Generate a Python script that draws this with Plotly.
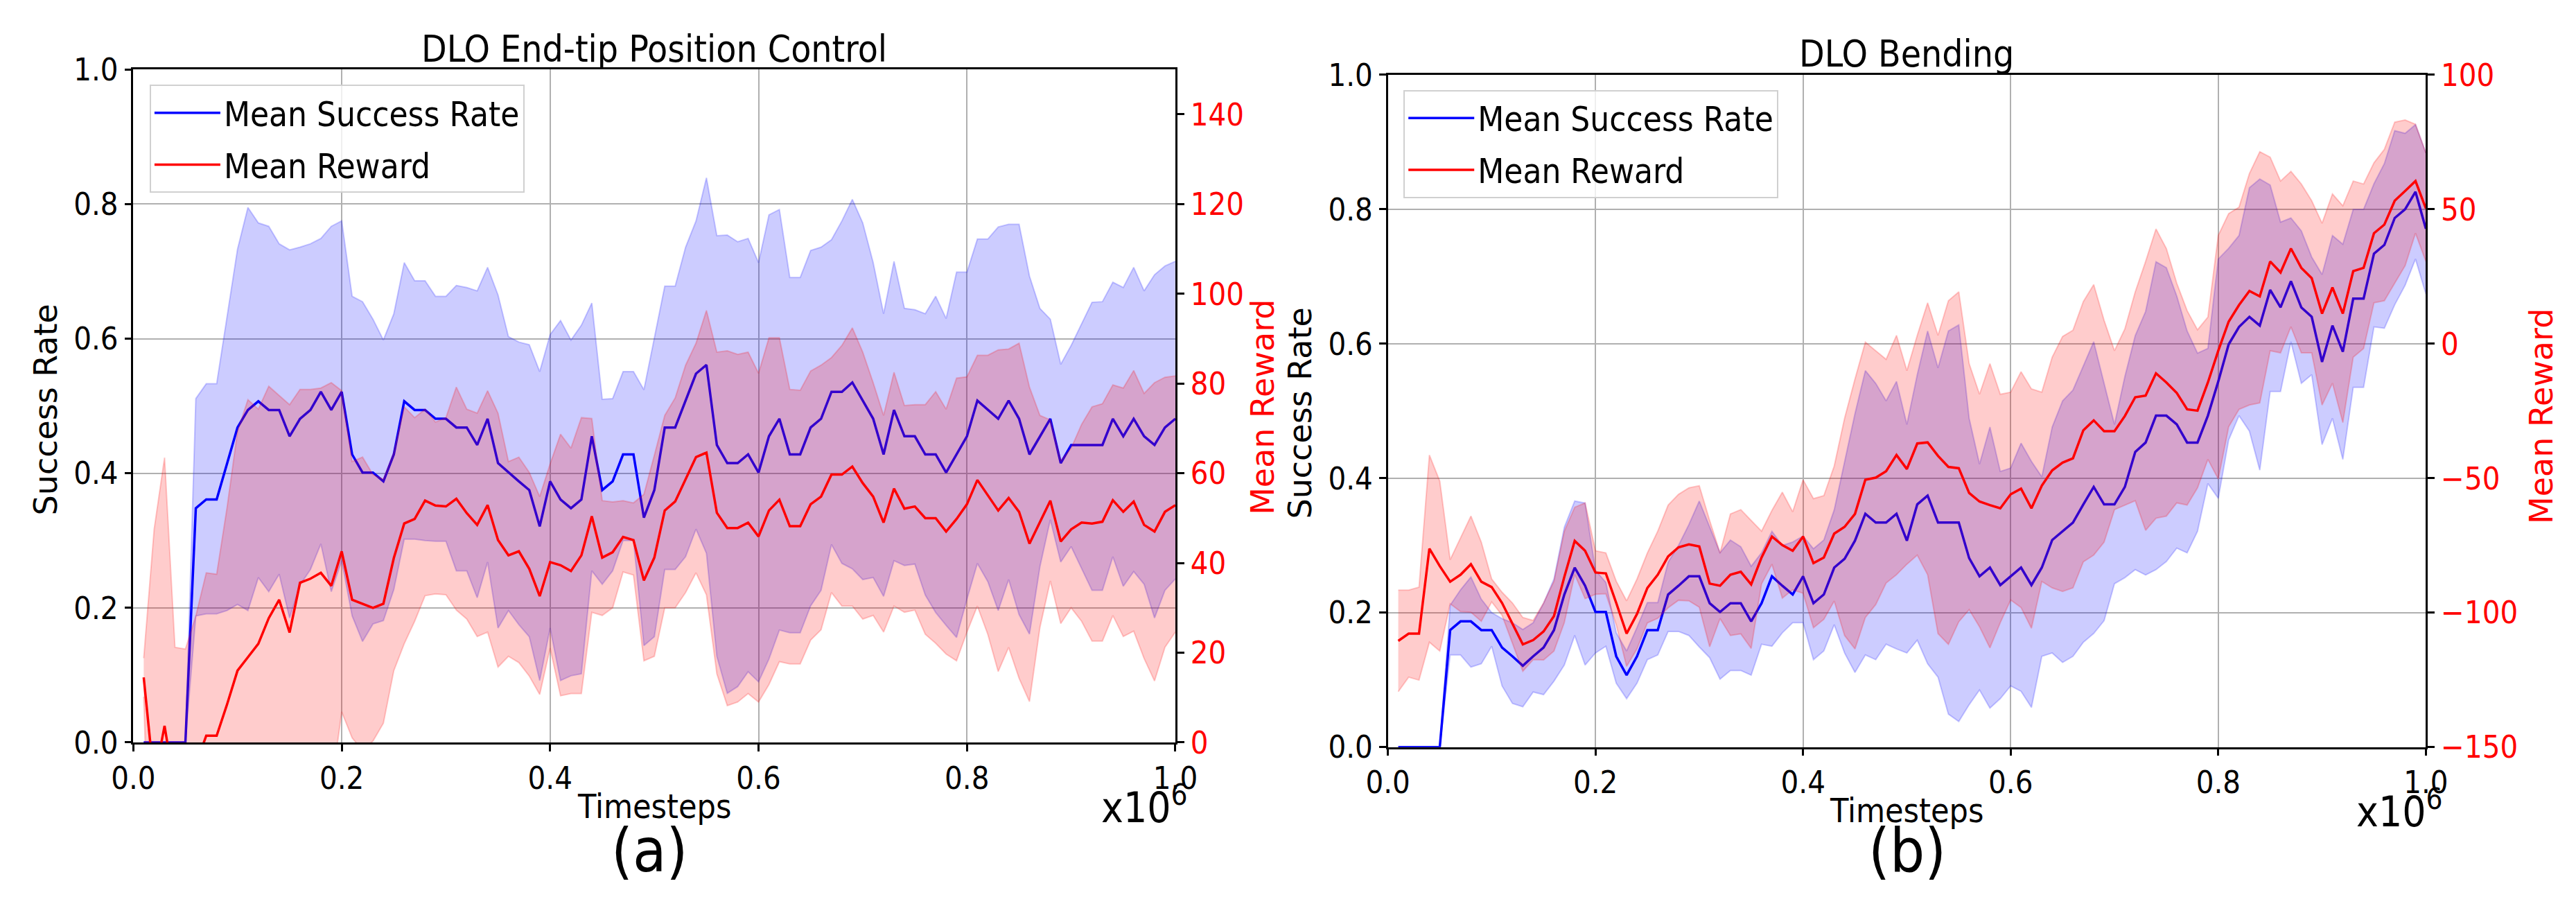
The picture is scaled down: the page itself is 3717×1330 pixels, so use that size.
import plotly.graph_objects as go

W, H = 3717, 1330
FONT = "DejaVu Sans Condensed, DejaVu Sans"
ROT_FONT = "DejaVu Sans"
FS = 45

# ---- data (timesteps in units of 1e6) ----
timesteps = [i / 100 for i in range(1, 101)]

# (a) DLO End-tip Position Control
a_success_mean = [
    0, 0, 0, 0, 0, .348, .361, .361, .414, .468, .494, .507, .494, .494, .455, .481, .494, .521, .494, .521,
    .428, .401, .401, .388, .428, .507, .494, .494, .481, .481, .468, .468, .442, .481, .415, .401, .388, .375, .321, .388,
    .361, .348, .361, .455, .375, .388, .428, .428, .334, .375, .468, .468, .509, .548, .561, .442, .415, .415, .428, .401,
    .455, .481, .428, .428, .468, .481, .521, .521, .535, .508, .481, .428, .494, .455, .455, .428, .428, .401, .428, .455,
    .508, .494, .481, .508, .481, .428, .455, .481, .415, .442, .442, .442, .442, .481, .455, .481, .455, .442, .468, .481]
a_success_upper = [
    0, 0, 0, 0, 0, .511, .533, .533, .632, .733, .795, .772, .767, .741, .732, .736, .741, .749, .767, .775,
    .663, .655, .629, .598, .637, .713, .686, .686, .663, .663, .679, .676, .671, .706, .665, .603, .595, .591, .551, .606,
    .627, .598, .620, .653, .510, .511, .551, .551, .524, .600, .678, .678, .736, .775, .839, .753, .754, .744, .749, .713,
    .784, .792, .691, .691, .731, .736, .747, .775, .807, .772, .713, .637, .715, .645, .643, .637, .663, .630, .699, .699,
    .748, .748, .766, .770, .770, .693, .645, .629, .562, .590, .622, .654, .655, .684, .676, .706, .671, .695, .708, .715]
a_success_lower = [
    0, 0, 0, 0, 0, .188, .191, .191, .196, .205, .196, .245, .224, .250, .185, .234, .257, .295, .224, .270,
    .188, .150, .176, .181, .227, .302, .302, .300, .299, .299, .255, .255, .215, .268, .170, .196, .175, .157, .092, .170,
    .092, .099, .102, .255, .235, .255, .300, .300, .144, .157, .257, .257, .276, .317, .281, .128, .073, .083, .105, .090,
    .124, .167, .163, .163, .203, .226, .294, .266, .258, .242, .245, .217, .270, .263, .265, .219, .193, .174, .156, .213,
    .266, .239, .196, .242, .190, .161, .261, .331, .268, .291, .258, .226, .226, .276, .232, .254, .235, .185, .226, .243]
a_reward_mean = [
    14.5, -8.6, 3.7, -10.5, -10.0, -5.0, 1.5, 1.5, 8.5, 16.0, 19.0, 22.0, 27.7, 31.8, 24.5, 35.6, 36.5, 37.8, 34.9, 42.6,
    31.8, 30.9, 30.0, 30.9, 41.1, 48.8, 49.8, 53.9, 52.8, 52.6, 54.3, 51.1, 48.5, 52.9, 45.1, 41.7, 42.6, 38.7, 32.6, 40.2,
    39.5, 38.2, 41.7, 50.4, 41.2, 42.4, 45.8, 45.1, 36.1, 41.2, 51.7, 53.7, 58.7, 63.6, 64.6, 51.2, 47.8, 47.8, 49.0, 45.9,
    51.7, 54.1, 48.2, 48.2, 53.1, 54.8, 59.7, 59.7, 61.5, 57.8, 54.8, 49.0, 56.6, 52.1, 52.6, 50.0, 50.0, 47.0, 49.8, 53.1,
    58.5, 55.1, 51.7, 54.5, 51.4, 44.3, 49.2, 53.9, 44.8, 47.5, 49.0, 48.8, 49.2, 54.0, 51.4, 53.7, 48.5, 47.0, 51.4, 52.9]
a_reward_upper = [
    18.8, 47.5, 63.5, 21.2, 20.8, 28.2, 37.8, 37.5, 52.4, 69.3, 76.4, 74.3, 79.4, 77.3, 75.3, 78.7, 78.7, 79.0, 80.2, 78.4,
    62.6, 63.6, 59.7, 58.7, 64.6, 74.8, 72.4, 74.3, 71.4, 72.4, 79.2, 74.3, 73.4, 78.4, 73.4, 62.6, 63.6, 60.2, 54.8, 62.1,
    68.7, 65.6, 72.4, 72.2, 53.9, 53.6, 53.9, 53.4, 55.3, 64.0, 72.9, 76.8, 84.1, 89.0, 96.3, 87.0, 87.3, 86.5, 87.0, 82.3,
    90.2, 90.2, 78.7, 78.5, 82.8, 84.1, 85.8, 88.5, 92.4, 87.0, 80.2, 72.9, 82.5, 75.1, 75.3, 75.3, 78.2, 74.3, 81.2, 81.5,
    86.3, 86.3, 87.5, 87.7, 89.0, 79.2, 72.9, 71.9, 62.8, 65.6, 70.9, 74.8, 75.5, 79.7, 79.0, 82.9, 77.8, 80.2, 81.4, 81.7]
a_reward_lower = [
    10.2, -64.7, -56.1, -42.2, -40.8, -38.2, -34.8, -34.5, -35.4, -37.3, -38.4, -30.3, -24.0, -13.7, -26.3, -7.5, -5.7, -3.4, -10.4, 6.8,
    1.0, -1.8, 0.3, 4.3, 16.0, 22.0, 27.0, 32.7, 33.1, 32.9, 29.5, 27.5, 23.6, 24.6, 16.8, 19.2, 17.8, 14.8, 10.7, 21.0,
    10.4, 10.9, 10.9, 29.0, 28.3, 30.0, 38.0, 37.3, 18.2, 19.2, 30.0, 30.0, 33.4, 37.8, 32.9, 15.3, 8.2, 9.0, 10.9, 9.0,
    12.9, 18.0, 17.5, 17.5, 22.8, 25.1, 33.4, 30.4, 30.4, 27.5, 28.3, 24.6, 30.4, 29.0, 29.5, 24.1, 22.1, 19.7, 18.2, 24.6,
    30.4, 24.1, 15.8, 21.2, 14.3, 9.1, 25.6, 36.0, 26.5, 30.0, 27.0, 22.6, 22.6, 28.3, 23.6, 24.8, 18.7, 13.7, 21.2, 24.6]

# (b) DLO Bending
b_success_mean = [
    0, 0, 0, 0, 0, .174, .187, .187, .174, .174, .148, .135, .121, .135, .148, .174, .227, .267, .240, .201,
    .201, .135, .107, .135, .174, .174, .227, .240, .254, .254, .214, .201, .214, .214, .187, .214, .254, .240, .227, .254,
    .214, .227, .267, .280, .307, .347, .334, .334, .347, .307, .361, .374, .334, .334, .334, .281, .254, .267, .241, .254,
    .267, .241, .267, .308, .321, .334, .361, .387, .361, .361, .387, .439, .453, .493, .493, .480, .453, .453, .493, .544,
    .599, .625, .640, .627, .680, .654, .693, .654, .640, .573, .627, .588, .667, .667, .734, .747, .787, .800, .826, .771]
b_success_upper = [
    0, 0, 0, 0, 0, .211, .234, .253, .220, .200, .191, .185, .175, .185, .214, .250, .327, .366, .363, .263,
    .245, .170, .143, .178, .215, .215, .275, .300, .331, .366, .328, .289, .308, .298, .269, .289, .321, .300, .305, .314,
    .295, .308, .353, .425, .496, .560, .541, .515, .544, .480, .554, .619, .564, .619, .628, .489, .421, .476, .410, .415,
    .452, .425, .402, .476, .515, .531, .567, .603, .541, .480, .551, .612, .648, .722, .713, .671, .619, .586, .593, .726,
    .742, .761, .832, .845, .836, .781, .787, .768, .729, .703, .761, .748, .800, .800, .838, .868, .917, .913, .926, .884]
b_success_lower = [
    0, 0, 0, 0, 0, .137, .137, .119, .124, .150, .091, .065, .060, .082, .078, .098, .122, .166, .122, .140,
    .150, .095, .072, .095, .130, .137, .172, .172, .166, .149, .133, .101, .114, .114, .107, .153, .150, .170, .185, .185,
    .130, .143, .182, .140, .111, .137, .130, .153, .146, .140, .159, .124, .104, .049, .038, .063, .085, .058, .072, .091,
    .083, .059, .135, .140, .126, .135, .156, .169, .188, .243, .252, .264, .256, .264, .276, .296, .289, .321, .392, .370,
    .457, .493, .470, .412, .529, .529, .603, .541, .554, .450, .489, .428, .535, .535, .625, .623, .658, .687, .726, .674]
b_reward_mean = [
    -110.5, -107.8, -107.8, -76.2, -82.7, -88.5, -85.9, -82.0, -88.5, -90.5, -96.4, -104.0, -111.8, -110.2, -107.0, -101.3, -86.7, -73.3, -77.0, -85.1,
    -85.4, -96.4, -107.8, -100.5, -90.8, -85.9, -79.1, -75.7, -74.6, -75.4, -89.2, -90.0, -85.9, -84.8, -89.5, -79.5, -71.7, -74.9, -77.0, -71.7,
    -81.6, -79.5, -70.6, -68.1, -63.3, -50.6, -49.8, -47.4, -41.4, -46.6, -37.1, -36.7, -41.7, -45.8, -46.3, -55.5, -58.7, -60.0, -61.2, -56.0,
    -53.9, -61.2, -52.8, -47.1, -44.2, -42.6, -32.2, -28.5, -32.5, -32.5, -26.9, -19.9, -19.3, -11.0, -14.4, -18.3, -24.4, -24.9, -14.4, -2.6,
    8.2, 14.4, 19.6, 17.6, 30.6, 26.5, 35.4, 28.2, 24.4, 11.2, 20.9, 11.2, 27.0, 28.2, 41.1, 44.3, 53.2, 56.8, 60.5, 50.3]
b_reward_upper = [
    -91.6, -91.6, -90.5, -41.4, -51.1, -80.3, -72.2, -64.1, -73.8, -87.5, -92.4, -96.4, -101.8, -102.9, -96.4, -88.3, -69.7, -60.8, -59.2, -77.0,
    -77.8, -88.3, -95.6, -87.5, -77.8, -69.7, -60.0, -56.0, -53.6, -52.8, -65.7, -77.8, -63.3, -61.7, -65.7, -69.7, -62.0, -55.2, -62.5, -50.6,
    -57.6, -56.5, -45.5, -27.7, -13.1, 0.6, -2.6, -5.8, 3.1, -10.0, 3.1, 15.2, 3.1, 16.0, 19.3, -7.4, -18.8, -7.4, -18.8, -18.0,
    -10.4, -16.8, -18.0, -5.0, 2.7, 5.0, 15.7, 22.0, 8.7, -2.6, 5.5, 19.3, 30.6, 42.7, 35.4, 22.5, 12.3, 5.2, 9.9, 40.3,
    48.4, 50.8, 63.3, 71.4, 69.4, 60.5, 64.1, 59.4, 53.2, 44.8, 55.7, 51.3, 60.5, 59.4, 67.3, 72.3, 82.4, 83.2, 81.6, 71.0]
b_reward_lower = [
    -129.4, -124.0, -125.1, -111.0, -114.3, -96.7, -99.6, -99.9, -103.2, -96.0, -101.0, -111.6, -121.8, -117.5, -117.6, -114.3, -103.7, -85.8, -94.8, -93.2,
    -93.0, -104.5, -120.0, -113.5, -103.8, -102.1, -98.2, -95.4, -95.6, -98.0, -112.7, -102.2, -108.5, -107.9, -113.3, -89.3, -82.0, -94.6, -91.5, -92.8,
    -105.6, -102.5, -95.7, -108.5, -113.5, -101.8, -97.0, -89.0, -85.9, -82.0, -78.6, -85.9, -107.8, -111.8, -103.4, -98.9, -105.3, -113.1, -103.7, -95.3,
    -98.1, -105.8, -88.4, -90.8, -92.1, -90.8, -81.1, -78.6, -73.8, -61.7, -60.0, -58.4, -69.4, -64.9, -64.1, -59.2, -60.0, -53.6, -43.0, -50.3,
    -30.9, -24.4, -22.8, -22.0, -2.6, -3.4, 6.3, -3.4, -3.4, -22.8, -14.7, -29.3, -5.0, -1.8, 15.2, 16.0, 22.5, 29.0, 41.1, 30.6]

x_ticks = [0, 0.2, 0.4, 0.6, 0.8, 1.0]
success_ticks = [0, 0.2, 0.4, 0.6, 0.8, 1.0]
a_reward_ticks = [0, 20, 40, 60, 80, 100, 120, 140]
b_reward_ticks = [-150, -100, -50, 0, 50, 100]

BLUE_FILL = "rgba(0,0,255,0.2)"
RED_FILL = "rgba(255,0,0,0.2)"


def px(x):
    return x / W


def py(y):
    return 1 - y / H


fig = go.Figure()


def add_band(xa, ya, lower, upper, fill):
    fig.add_trace(go.Scatter(x=timesteps, y=lower, mode="lines", line=dict(color=fill, width=2),
                             xaxis=xa, yaxis=ya, showlegend=False, hoverinfo="skip"))
    fig.add_trace(go.Scatter(x=timesteps, y=upper, mode="lines", line=dict(color=fill, width=2),
                             fill="tonexty", fillcolor=fill,
                             xaxis=xa, yaxis=ya, showlegend=False, hoverinfo="skip"))


for xa, ys, yr, leg, s_lo, s_hi, s_m, r_lo, r_hi, r_m in [
    ("x", "y", "y2", "legend", a_success_lower, a_success_upper, a_success_mean,
     a_reward_lower, a_reward_upper, a_reward_mean),
    ("x2", "y3", "y4", "legend2", b_success_lower, b_success_upper, b_success_mean,
     b_reward_lower, b_reward_upper, b_reward_mean),
]:
    add_band(xa, ys, s_lo, s_hi, BLUE_FILL)
    fig.add_trace(go.Scatter(x=timesteps, y=s_m, mode="lines", name="Mean Success Rate",
                             line=dict(color="blue", width=3.5), xaxis=xa, yaxis=ys,
                             legend=leg, legendgroup="s"))
    add_band(xa, yr, r_lo, r_hi, RED_FILL)
    fig.add_trace(go.Scatter(x=timesteps, y=r_m, mode="lines", name="Mean Reward",
                             line=dict(color="red", width=3.5), xaxis=xa, yaxis=yr,
                             legend=leg, legendgroup="r"))

axis_common = dict(
    showline=True, linecolor="black", linewidth=2.5,
    ticks="outside", ticklen=10, tickwidth=2.5, tickcolor="black",
    tickfont=dict(family=FONT, size=FS, color="black"),
    zeroline=False,
)
grid = dict(showgrid=True, gridcolor="#b0b0b0", gridwidth=2)

xa_cfg = dict(range=[0, 1.0], tickvals=x_ticks, tickformat=".1f", mirror=True, **grid, **axis_common)
ys_cfg = dict(range=[0, 1.0], tickvals=success_ticks, tickformat=".1f", **grid, **axis_common)

red_axis = dict(axis_common)
red_axis["tickfont"] = dict(family=FONT, size=FS, color="red")

legend_cfg = dict(
    bgcolor="rgba(255,255,255,0.8)", bordercolor="#d0d0d0", borderwidth=2,
    font=dict(family=FONT, size=49, color="black"),
    xanchor="left", yanchor="top", tracegroupgap=8, traceorder="grouped",
    itemwidth=95,
)

fig.update_layout(
    width=W, height=H,
    margin=dict(l=0, r=0, t=0, b=0),
    paper_bgcolor="white", plot_bgcolor="white",
    font=dict(family=FONT, size=FS, color="black"),
    xaxis=dict(domain=[px(155), px(1685)], anchor="y", **xa_cfg),
    yaxis=dict(domain=[py(1080), py(69)], anchor="x", **ys_cfg),
    yaxis2=dict(overlaying="y", side="right", anchor="x", range=[0, 150],
                tickvals=a_reward_ticks, showgrid=False, **red_axis),
    xaxis2=dict(domain=[px(1997), px(3521)], anchor="y3", **xa_cfg),
    yaxis3=dict(domain=[py(1087), py(77)], anchor="x2", **ys_cfg),
    yaxis4=dict(overlaying="y3", side="right", anchor="x2", range=[-150, 100],
                tickvals=b_reward_ticks, showgrid=False, **red_axis),
    legend=dict(x=px(179), y=py(92), **legend_cfg),
    legend2=dict(x=px(2020), y=py(100), **legend_cfg),
)


def label(text, x, y, size=FS, color="black", angle=0, family=FONT):
    fig.add_annotation(text=text, x=px(x), y=py(y), xref="paper", yref="paper",
                       showarrow=False, textangle=angle, xanchor="center", yanchor="middle",
                       font=dict(family=family, size=size, color=color))


label("DLO End-tip Position Control", 920, 38, size=53)
label("DLO Bending", 2759, 45, size=53)
label("Timesteps", 920, 1176, size=48)
label("Timesteps", 2759, 1182, size=48)
label("(a)", 913, 1242, size=88)
label("(b)", 2760, 1242, size=88)
label("x10<sup>6</sup>", 1640, 1174, size=60)
label("x10<sup>6</sup>", 3482, 1180, size=60)
label("Success Rate", 26, 580, angle=-90, family=ROT_FONT, size=46)
label("Success Rate", 1868, 585, angle=-90, family=ROT_FONT, size=46)
label("Mean Reward", 1813, 576, color="red", angle=-90, family=ROT_FONT, size=46)
label("Mean Reward", 3691, 590, color="red", angle=-90, family=ROT_FONT, size=46)

fig.write_html("out.html")
